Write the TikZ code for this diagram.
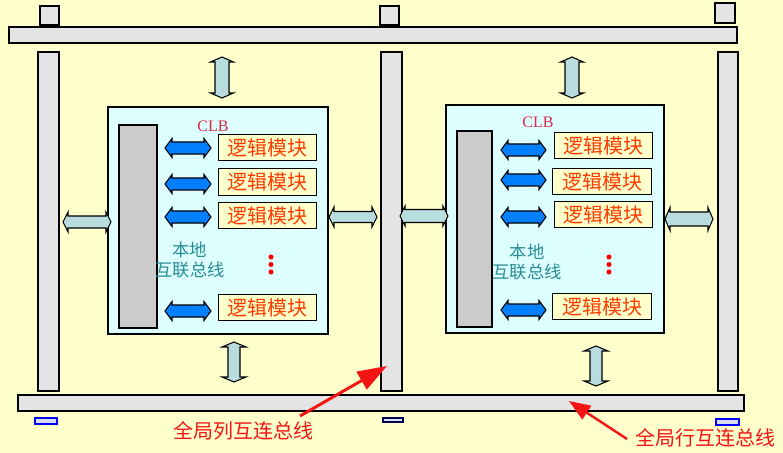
\documentclass[tikz,border=0pt]{standalone}
\usepackage{fontspec}
\setmainfont{Liberation Serif}
\newfontfamily\cjk{Noto Sans CJK SC}
\usetikzlibrary{calc}
\usetikzlibrary{arrows.meta}
\definecolor{paper}{RGB}{255,255,204}
\definecolor{busgray}{RGB}{228,228,228}
\definecolor{clbcyan}{RGB}{221,255,255}
\definecolor{localgray}{RGB}{204,204,204}
\definecolor{linkgray}{RGB}{185,220,222}
\definecolor{linkblue}{RGB}{0,128,255}
\definecolor{logicred}{RGB}{255,60,0}
\definecolor{clbred}{RGB}{215,40,70}
\definecolor{localteal}{RGB}{40,140,150}
\definecolor{pointred}{RGB}{245,20,20}
\definecolor{padblue}{RGB}{0,0,255}
\definecolor{padfill}{RGB}{215,220,240}

% double block arrows: style, x1, x2, y, shaft half, head half, head length
\newcommand{\hdarrow}[7]{%
  \draw[#1] (#2,#4) -- (#2+#7,#4-#6) -- (#2+#7,#4-#5) -- (#3-#7,#4-#5) -- (#3-#7,#4-#6) -- (#3,#4)
    -- (#3-#7,#4+#6) -- (#3-#7,#4+#5) -- (#2+#7,#4+#5) -- (#2+#7,#4+#6) -- cycle;}
% style, x, y1, y2, shaft half, head half, head length
\newcommand{\vdarrow}[7]{%
  \draw[#1] (#2,#3) -- (#2+#6,#3+#7) -- (#2+#5,#3+#7) -- (#2+#5,#4-#7) -- (#2+#6,#4-#7) -- (#2,#4)
    -- (#2-#6,#4-#7) -- (#2-#5,#4-#7) -- (#2-#5,#3+#7) -- (#2-#6,#3+#7) -- cycle;}

\tikzset{
  bar/.style={draw=black, line width=0.8pt, fill=busgray},
  clbbox/.style={draw=black, line width=0.8pt, fill=clbcyan},
  localbar/.style={draw=black, line width=0.8pt, fill=localgray},
  logicbox/.style={draw=black, line width=0.8pt, fill=paper, minimum width=74pt,
    minimum height=20pt, inner sep=0pt, text=logicred, font=\cjk\fontsize{15}{15}\selectfont},
  grayarrow/.style={draw=black, line width=0.8pt, fill=linkgray},
  bluearrow/.style={draw=black, line width=0.8pt, fill=linkblue},
  clblabel/.style={text=clbred, font=\fontsize{12}{12}\selectfont},
  localtext/.style={text=localteal, align=center, font=\cjk\fontsize{13}{15}\selectfont},
  buslabel/.style={text=pointred, font=\cjk\fontsize{15}{15}\selectfont},
  pad/.style={draw=padblue, line width=0.8pt, fill=padfill},
}

\begin{document}
\begin{tikzpicture}[x=0.75pt, y=-0.75pt]
    \fill[paper] (0,0) rectangle (783,453);
    \useasboundingbox (0,0) rectangle (783,453);

    % global buses
    \draw[bar] (40,6) rectangle (59,25);
    \draw[bar] (380,6) rectangle (399,25);
    \draw[bar] (715,3) rectangle (735,23);
    \draw[bar] (9,27) rectangle (737,43);
    \draw[bar] (38,52) rectangle (59,391);
    \draw[bar] (381,52) rectangle (402,391);
    \draw[bar] (718,52) rectangle (738,391);
    \draw[bar] (18,395) rectangle (744,411);
    \draw[pad] (35,418) rectangle (57,424);
    \draw[pad, draw=black!70!blue] (383,418) rectangle (403,422);
    \draw[pad] (716,419) rectangle (739,425);

    % CLBs
    \draw[clbbox] (108,107) rectangle (328,334);
    \draw[clbbox] (446,105) rectangle (664,333);
    \draw[localbar] (119,125) rectangle (157,328);
    \draw[localbar] (457,131) rectangle (492,327);

    \foreach \n/\x/\y in {1/267.5/147.5, 2/267.5/182, 3/267.5/215.5, 4/267.5/307.5}
        \node[logicbox] (la\n) at (\x,\y) {逻辑模块};
    \foreach \n/\x/\y in {1/603.5/145.5, 2/602/181.5, 3/603.5/214.5, 4/602/306.5}
        \node[logicbox] (lb\n) at (\x,\y) {逻辑模块};

    \foreach \y in {148,184,217,311} {
        \hdarrow{bluearrow}{165}{211}{\y}{6}{9.5}{7}
    }
    \foreach \y in {150,180,217,310} {
        \hdarrow{bluearrow}{501}{546}{\y}{6}{9.5}{7}
    }

    \node[clblabel] (clba) at (213,126) {CLB};
    \node[clblabel] (clbb) at (538,122) {CLB};
    \node[localtext] (loca) at (190,260) {本地\\互联总线};
    \node[localtext] (locb) at (527,262) {本地\\互联总线};

    \foreach \y in {257,264.5,272} {
        \fill[red] (271,\y) circle (1.9pt);
        \fill[red] (609,\y) circle (1.9pt);
    }

    % links to the buses
    \hdarrow{grayarrow}{63}{111}{222}{6}{10}{5}
    \hdarrow{grayarrow}{329}{377}{217}{5.5}{10}{5}
    \hdarrow{grayarrow}{400}{448}{216}{6.5}{10}{5}
    \hdarrow{grayarrow}{665}{713}{219}{7}{11.5}{5}
    \vdarrow{grayarrow}{222}{57}{98}{7}{11.5}{5}
    \vdarrow{grayarrow}{572}{57}{98}{7}{11.5}{5}
    \vdarrow{grayarrow}{234}{342}{382}{6}{12}{5}
    \vdarrow{grayarrow}{596}{346}{386}{6}{12}{5}

    % labels
    \node[buslabel] (colbus) at (243,431) {全局列互连总线};
    \node[buslabel] (rowbus) at (705,438) {全局行互连总线};
    \coordinate (coltail) at (300,416);
    \coordinate (coltip) at (387,366);
    \coordinate (rowtail) at (627,439);
    \coordinate (rowtip) at (569,401);
    \draw[pointred, line width=2.2pt, -{Triangle[length=22pt, width=15pt]}] (coltail) -- (coltip);
    \draw[pointred, line width=1.8pt, -{Triangle[length=16pt, width=12pt]}] (rowtail) -- (rowtip);
\end{tikzpicture}
\end{document}
